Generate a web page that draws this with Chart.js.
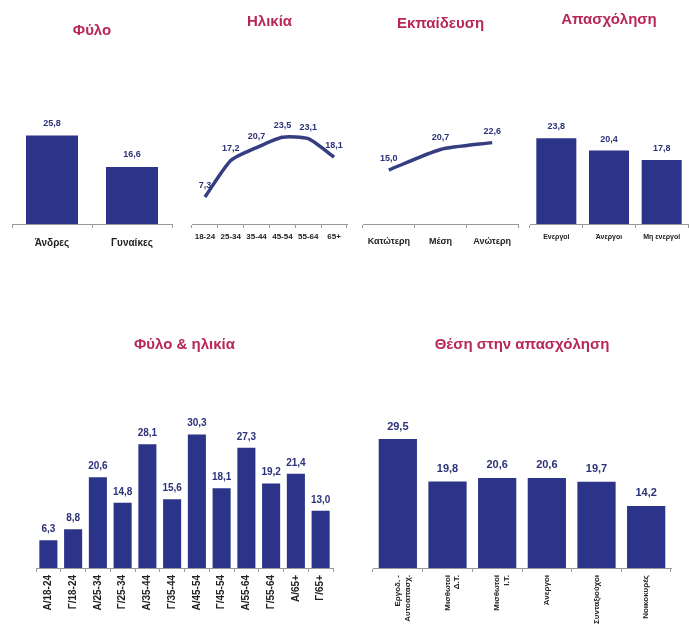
<!DOCTYPE html>
<html lang="el">
  <head>
    <meta charset="UTF-8" />
    <title>Ποσοστά ανά κατηγορία</title>
    <script src="https://cdn.jsdelivr.net/npm/chart.js"></script>
    <style>
      body {
        margin: 0;
        background: #ffffff;
      }
      .panel {
        position: absolute;
      }
    </style>
  </head>
  <body>
    <div class="panel" style="left: 0px; top: 0px; width: 180px; height: 260px">
      <canvas id="sexChart"></canvas>
    </div>
    <div class="panel" style="left: 180px; top: 0px; width: 180px; height: 260px">
      <canvas id="ageChart"></canvas>
    </div>
    <div class="panel" style="left: 350px; top: 0px; width: 175px; height: 260px">
      <canvas id="eduChart"></canvas>
    </div>
    <div class="panel" style="left: 520px; top: 0px; width: 169px; height: 260px">
      <canvas id="workChart"></canvas>
    </div>
    <div class="panel" style="left: 0px; top: 300px; width: 345px; height: 336px">
      <canvas id="sexAgeChart"></canvas>
    </div>
    <div class="panel" style="left: 345px; top: 300px; width: 344px; height: 336px">
      <canvas id="positionChart"></canvas>
    </div>

    <script>
      const sexLabels = ["Άνδρες", "Γυναίκες"];
      const sexValues = [25.8, 16.6];

      const ageLabels = ["18-24", "25-34", "35-44", "45-54", "55-64", "65+"];
      const ageValues = [7.3, 17.2, 20.7, 23.5, 23.1, 18.1];

      const eduLabels = ["Κατώτερη", "Μέση", "Ανώτερη"];
      const eduValues = [15.0, 20.7, 22.6];

      const workLabels = ["Ενεργοί", "Άνεργοι", "Μη ενεργοί"];
      const workValues = [23.8, 20.4, 17.8];

      const sexAgeLabels = [
        "Α/18-24", "Γ/18-24", "Α/25-34", "Γ/25-34", "Α/35-44", "Γ/35-44",
        "Α/45-54", "Γ/45-54", "Α/55-64", "Γ/55-64", "Α/65+", "Γ/65+",
      ];
      const sexAgeValues = [6.3, 8.8, 20.6, 14.8, 28.1, 15.6, 30.3, 18.1, 27.3, 19.2, 21.4, 13.0];

      const positionLabels = [
        ["Εργοδ. -", "Αυτοαπασχ."],
        ["Μισθωτοί", "Δ.Τ."],
        ["Μισθωτοί", "Ι.Τ."],
        "Άνεργοι",
        "Συνταξιούχοι",
        "Νοικοκυρές",
      ];
      const positionValues = [29.5, 19.8, 20.6, 20.6, 19.7, 14.2];

      const NAVY = "#2b3489";
      const TITLE_RED = "#b8275a";
      const FONT = "'Liberation Sans', Arial, sans-serif";

      Chart.defaults.font.family = FONT;
      Chart.defaults.animation = false;

      // writes each value (Greek decimal comma) above its bar or point
      const valueLabels = {
        id: "valueLabels",
        afterDatasetsDraw(chart, args, opts) {
          const ctx = chart.ctx;
          const meta = chart.getDatasetMeta(0);
          const data = chart.data.datasets[0].data;
          ctx.save();
          ctx.font = "bold " + opts.size + "px " + FONT;
          ctx.fillStyle = opts.color;
          ctx.textAlign = "center";
          ctx.textBaseline = "bottom";
          meta.data.forEach((el, i) => {
            const text = data[i].toFixed(1).replace(".", ",");
            ctx.fillText(text, el.x + (opts.dx || 0), el.y - opts.offset);
          });
          ctx.restore();
        },
      };

      function createChart(canvasId, cfg) {
        const isLine = cfg.type === "line";
        const dataset = {
          data: cfg.values,
          backgroundColor: NAVY,
          borderColor: NAVY,
        };
        if (isLine) {
          dataset.borderWidth = 3.5;
          dataset.pointRadius = 0;
          dataset.tension = 0.2;
          dataset.borderColor = "#343e80";
        } else {
          dataset.barPercentage = cfg.barPercentage;
          dataset.categoryPercentage = 1;
        }

        new Chart(document.getElementById(canvasId), {
          type: cfg.type,
          data: { labels: cfg.labels, datasets: [dataset] },
          plugins: [valueLabels],
          options: {
            responsive: true,
            maintainAspectRatio: false,
            layout: {
              padding: { left: cfg.padLeft, right: cfg.padRight, top: 0, bottom: 0 },
            },
            plugins: {
              legend: { display: false },
              tooltip: { enabled: false },
              title: {
                display: true,
                text: cfg.title,
                color: TITLE_RED,
                font: { size: 15, weight: "bold" },
                padding: { top: cfg.titleTop, bottom: cfg.titleBottom },
              },
              valueLabels: {
                size: cfg.labelSize,
                color: "#2b3278",
                offset: cfg.labelOffset,
              },
            },
            scales: {
              x: {
                offset: true,
                afterFit: (scale) => {
                  scale.height = cfg.axisHeight;
                },
                border: { color: "#9a9a9a", width: 1 },
                grid: {
                  display: true,
                  offset: true,
                  drawOnChartArea: false,
                  tickLength: 4,
                  color: "#9a9a9a",
                },
                ticks: {
                  color: "#222222",
                  padding: cfg.tickPadding,
                  autoSkip: false,
                  minRotation: cfg.rotation,
                  maxRotation: cfg.rotation,
                  font: { size: cfg.tickSize, weight: "bold" },
                },
              },
              y: {
                display: false,
                min: 0,
                max: cfg.yMax,
              },
            },
          },
        });
      }

      createChart("sexChart", {
        type: "bar",
        title: "Φύλο",
        labels: sexLabels,
        values: sexValues,
        yMax: 42,
        barPercentage: 0.65,
        padLeft: 12,
        padRight: 8,
        titleTop: 22,
        titleBottom: 40,
        axisHeight: 36,
        tickPadding: 9,
        tickSize: 10,
        rotation: 0,
        labelSize: 9,
        labelOffset: 8,
      });

      createChart("ageChart", {
        type: "line",
        title: "Ηλικία",
        labels: ageLabels,
        values: ageValues,
        yMax: 39,
        padLeft: 12,
        padRight: 13,
        titleTop: 13,
        titleBottom: 49,
        axisHeight: 36,
        tickPadding: 4,
        tickSize: 8,
        rotation: 0,
        labelSize: 9,
        labelOffset: 7,
      });

      createChart("eduChart", {
        type: "line",
        title: "Εκπαίδευση",
        labels: eduLabels,
        values: eduValues,
        yMax: 40,
        padLeft: 13,
        padRight: 7,
        titleTop: 15,
        titleBottom: 47,
        axisHeight: 36,
        tickPadding: 8,
        tickSize: 9,
        rotation: 0,
        labelSize: 9,
        labelOffset: 7,
      });

      createChart("workChart", {
        type: "bar",
        title: "Απασχόληση",
        labels: workLabels,
        values: workValues,
        yMax: 40,
        barPercentage: 0.76,
        padLeft: 10,
        padRight: 1,
        titleTop: 11,
        titleBottom: 51,
        axisHeight: 36,
        tickPadding: 5,
        tickSize: 7,
        rotation: 0,
        labelSize: 9,
        labelOffset: 7,
      });

      createChart("sexAgeChart", {
        type: "bar",
        title: "Φύλο & ηλικία",
        labels: sexAgeLabels,
        values: sexAgeValues,
        yMax: 42.7,
        barPercentage: 0.73,
        padLeft: 36,
        padRight: 12,
        titleTop: 36,
        titleBottom: 26,
        axisHeight: 68,
        tickPadding: 3,
        tickSize: 10,
        rotation: 90,
        labelSize: 10,
        labelOffset: 6,
      });

      createChart("positionChart", {
        type: "bar",
        title: "Θέση στην απασχόληση",
        labels: positionLabels,
        values: positionValues,
        yMax: 43,
        barPercentage: 0.77,
        padLeft: 28,
        padRight: 18,
        titleTop: 36,
        titleBottom: 26,
        axisHeight: 68,
        tickPadding: 3,
        tickSize: 8,
        rotation: 90,
        labelSize: 11,
        labelOffset: 7,
      });
    </script>
  </body>
</html>
